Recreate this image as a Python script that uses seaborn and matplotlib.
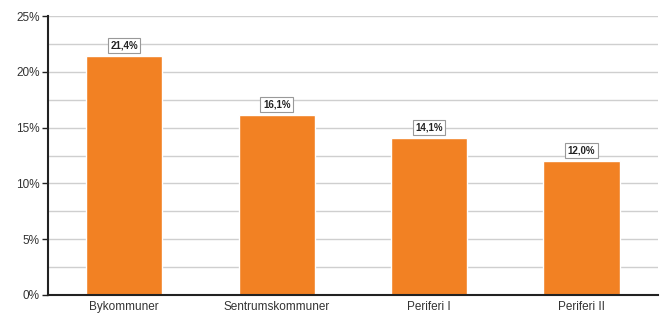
import matplotlib
matplotlib.use("Agg")
import matplotlib.pyplot as plt
import seaborn as sns
import numpy as np

categories = ["Bykommuner", "Sentrumskommuner", "Periferi I", "Periferi II"]
values = [21.4, 16.1, 14.1, 12.0]
value_labels = ["21,4%", "16,1%", "14,1%", "12,0%"]
y_ticks = [0, 5, 10, 15, 20, 25]

sns.set_style("white")
plt.rcParams['font.family'] = ['Liberation Sans', 'DejaVu Sans']

fig = plt.figure(figsize=(6.62, 3.15), dpi=100)
ax = fig.add_axes([0.0725, 0.0635, 0.921, 0.8855])

sns.barplot(x=categories, y=values, color="#F28123", saturation=1, width=0.5, ax=ax)

ax.set_ylim(0, 25)
ax.set_xlim(-0.5, 3.5)
ax.set_yticks(y_ticks)
ax.set_yticklabels([f"{t}%" for t in y_ticks], fontsize=8.5, color="#333333")
ax.set_yticks(np.arange(0, 25.1, 2.5), minor=True)
ax.grid(axis="y", which="both", color="#cfcfcf", linewidth=1)
ax.set_axisbelow(True)

ax.set_xticks(range(len(categories)))
ax.set_xticklabels(categories, fontsize=8.5, color="#333333")
ax.set_xticks([0.5, 1.5, 2.5, 3.5], minor=True)
ax.tick_params(axis="x", which="major", length=0, pad=4)
ax.tick_params(axis="x", which="minor", length=4, width=1, color="#222222", direction="out")
ax.tick_params(axis="y", which="major", length=4, width=1, color="#222222", direction="out", left=True, pad=2)
ax.tick_params(axis="y", which="minor", length=0)

for side in ["top", "right"]:
    ax.spines[side].set_visible(False)
ax.spines["left"].set_color("#222222")
ax.spines["left"].set_linewidth(1.5)
ax.spines["bottom"].set_color("#222222")
ax.spines["bottom"].set_linewidth(1.5)
ax.set_xlabel("")
ax.set_ylabel("")

for i, (v, lab) in enumerate(zip(values, value_labels)):
    ax.annotate(lab, (i, v), xytext=(0, 4), textcoords="offset points",
                ha="center", va="bottom", fontsize=7, fontweight="bold", color="#222222",
                bbox=dict(boxstyle="square,pad=0.25", facecolor="white", edgecolor="#999999", linewidth=0.8))

fig.savefig("out.png", dpi=100)
